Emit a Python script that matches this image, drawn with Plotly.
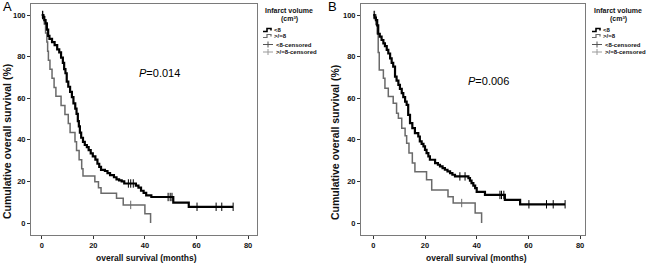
import plotly.graph_objects as go

W, H = 650, 264

# ---------------- data ----------------
# Panel A
A_lt8_t = [0, 0.5, 1, 1.5, 2, 2.5, 3, 4, 5, 6, 6.8, 7.5, 8.2, 8.7, 9.2, 9.7, 10.3, 11, 11.7, 12.3,
           13, 13.5, 14, 14.4, 14.8, 15.3, 16, 16.7, 17.5, 18.2, 19, 19.8, 20.8, 21.6, 22.3, 23, 24.5,
           25.5, 26.5, 28, 29, 30, 31, 32, 36.5, 37.5, 38.5, 39.5, 40.5, 42.5, 51, 57, 74.2]
A_lt8_s = [100, 99, 97.5, 96, 93, 90, 88.5, 87, 85.5, 83.5, 82, 79.5, 77, 74, 72, 68, 65.5, 63, 60.5, 57.5,
           55, 52.5, 49, 46.5, 43.5, 41, 39, 37.5, 36.5, 35, 33.5, 32, 30.5, 28.5, 27, 25.5, 25,
           24, 23, 22, 21, 20.5, 20, 19, 18, 17, 15.5, 14.5, 13.3, 12.5, 9.8, 7.8, 7.8]
A_lt8_cens = [0.3, 33.6, 34.5, 35.5, 49, 49.8, 50.5, 60.2, 67.6, 69.8, 74.2]

A_ge8_t = [0, 1.0, 1.5, 2.0, 2.3, 2.6, 3.2, 4.0, 4.8, 5.5, 7.5, 9.0, 10.3, 11.0, 12.9, 13.5, 14.5, 15.5,
           16.0, 20.6, 22.0, 23.0, 29.0, 31.6, 40.0, 42.2]
A_ge8_s = [100, 95.7, 91.3, 87, 82.6, 78.3, 73.9, 69.6, 65.2, 60.9, 56.5, 52.2, 47.8, 43.5, 39.1, 34.8, 30.4, 26.1,
           22.6, 19.8, 17, 14.3, 11.9, 8.7, 4.5, 0]
A_ge8_cens = [0.5, 34.5]

# Panel B
B_lt8_t = [0, 0.5, 1, 1.5, 1.9, 2.5, 3.2, 3.9, 4.5, 5.2, 5.8, 6.5, 7.1, 7.7, 8.4, 9.0, 9.7, 10.3, 11, 11.6,
           12.3, 12.9, 13.5, 14.2, 15.1, 16.1, 17.4, 18, 18.7, 19.4, 20, 20.6, 21.3, 21.9, 23.9, 25, 25.8,
           26.8, 27.7, 28.7, 29.7, 30.6, 31.6, 36.8, 37.4, 38, 38.7, 39.4, 40, 43.2, 50.9, 56.8, 74.2]
B_lt8_s = [100, 98.8, 97.5, 95, 91, 89.6, 88, 86.4, 85, 83.2, 81.5, 79.2, 77, 75.2, 70.4, 68.5, 66.4, 64.5, 62.4, 60.5,
           58.4, 56.8, 52, 48, 45.6, 43.2, 41.6, 39.2, 38, 36.8, 35.2, 33.6, 32, 30.4, 28.8, 28, 27.2,
           26.4, 25.6, 24.8, 24, 23.2, 22.4, 21.6, 20.4, 19.2, 18, 16.8, 15.0, 13.5, 11.1, 9.0, 9.0]
B_lt8_cens = [0.3, 33.5, 35.5, 49, 49.6, 50.5, 60.2, 67, 69.6, 74.2]

B_ge8_t = [0, 1.0, 1.5, 1.9, 2.3, 3.9, 4.5, 5.8, 7.7, 9.0, 9.7, 11.0, 12.3, 12.9, 13.8, 15.1, 16.1, 20.6,
           22.6, 28.9, 30.9, 39.4, 41.9]
B_ge8_s = [100, 95.5, 91, 82, 73.6, 69.6, 64.8, 60.8, 57.6, 52.8, 50.4, 45.6, 42, 38.4, 33.6, 28.8, 24.7, 20.8,
           15.9, 12.6, 9.6, 4.8, 0]
B_ge8_cens = [0.5, 34.2]

x_ticks = [0, 20, 40, 60, 80]
y_ticks = [0, 20, 40, 60, 80, 100]
p_values = ["0.014", "0.006"]
panel_labels = ["A", "B"]
y_title = "Cumulative overall survival (%)"
x_title = "overall survival (months)"
legend_title = "Infarct volume"
legend_unit = "(cm³)"
legend_items = ["<8", ">/=8", "<8-censored", ">/=8-censored"]

BLACK = "#000000"
GRAY = "#6a6a6a"
FONT = "Liberation Sans"


def step_val(ts, ss, t):
    v = ss[0]
    for ti, si in zip(ts, ss):
        if ti <= t:
            v = si
    return v


def px(x):
    return x / W


def py(y):
    return 1 - y / H


def note(x, y, text, size, bold=True, xanchor="center", yanchor="middle", angle=0, color="#111"):
    f = dict(family=FONT, size=size, color=color)
    if bold:
        f["weight"] = "bold"
    a = dict(x=px(x), y=py(y), xref="paper", yref="paper", text=text, showarrow=False,
             textangle=angle, font=f)
    if xanchor:
        a["xanchor"] = xanchor
    if yanchor:
        a["yanchor"] = yanchor
    return a


fig = go.Figure()

panels = [
    dict(xa="x", ya="y", d=(A_lt8_t, A_lt8_s, A_lt8_cens, A_ge8_t, A_ge8_s, A_ge8_cens),
         box=(31, 257), xr=[-4.15, 83.45], lx=263, ytx=7),
    dict(xa="x2", ya="y2", d=(B_lt8_t, B_lt8_s, B_lt8_cens, B_ge8_t, B_ge8_s, B_ge8_cens),
         box=(361, 585), xr=[-4.76, 81.9], lx=592, ytx=335),
]

top, bot = 4, 235
yr = [-5.77, 105.3]

shapes = []
annots = []
for i, p in enumerate(panels):
    t1, s1, c1, t2, s2, c2 = p["d"]
    fig.add_trace(go.Scatter(x=t2, y=s2, mode="lines", line=dict(color=GRAY, width=1.5, shape="hv"),
                             xaxis=p["xa"], yaxis=p["ya"], showlegend=False, hoverinfo="skip"))
    fig.add_trace(go.Scatter(x=c2, y=[step_val(t2, s2, c) for c in c2], mode="markers",
                             marker=dict(symbol="line-ns", size=6, line=dict(color=GRAY, width=1)),
                             xaxis=p["xa"], yaxis=p["ya"], showlegend=False, hoverinfo="skip"))
    fig.add_trace(go.Scatter(x=t1, y=s1, mode="lines", line=dict(color=BLACK, width=2.2, shape="hv"),
                             xaxis=p["xa"], yaxis=p["ya"], showlegend=False, hoverinfo="skip"))
    fig.add_trace(go.Scatter(x=c1, y=[step_val(t1, s1, c) for c in c1], mode="markers",
                             marker=dict(symbol="line-ns", size=6, line=dict(color=BLACK, width=1)),
                             xaxis=p["xa"], yaxis=p["ya"], showlegend=False, hoverinfo="skip"))

    x0, x1 = p["box"]
    axcommon = dict(showgrid=False, zeroline=False, showline=True, mirror=True, linecolor="#7a7a7a",
                    linewidth=1, ticks="outside", ticklen=3, tickcolor="#333", tickwidth=1,
                    tickfont=dict(family=FONT, size=7.5, color="#111", weight="bold"))
    sfx = "" if i == 0 else "2"
    fig.update_layout(**{
        "xaxis" + sfx: dict(domain=[px(x0), px(x1)], range=p["xr"], tickvals=x_ticks,
                            anchor="y" + sfx, **axcommon),
        "yaxis" + sfx: dict(domain=[py(bot), py(top)], range=yr, tickvals=y_ticks,
                            anchor="x" + sfx, **axcommon),
    })

    # axis titles
    cx = 146 if i == 0 else 476
    annots.append(note(cx, 258, x_title, 8.5))
    annots.append(note(p["ytx"], 142, "<b>" + y_title + "</b>", 10.5, bold=False, angle=-90,
                       xanchor="center", yanchor="middle"))
    # panel label
    annots.append(note(7 if i == 0 else 332, 7, panel_labels[i], 13, bold=False, color="#000"))
    # p value
    pcx = 159 if i == 0 else 488
    pcy = 73 if i == 0 else 81
    annots.append(note(pcx, pcy, "<i>P</i>=" + p_values[i], 11, bold=False, color="#000"))

    # legend
    lx = p["lx"]
    annots.append(note(lx + 26, 11, legend_title, 7))
    annots.append(note(lx + 26, 19, legend_unit, 7))
    ys = [30, 36, 44.5, 52]
    cols = [BLACK, GRAY, "#555555", "#9a9a9a"]
    for k, (lab, yy) in enumerate(zip(legend_items, ys)):
        if k < 2:
            path = "M {} {} L {} {} L {} {} L {} {} L {} {}".format(
                px(lx), py(yy + 1.5), px(lx + 4), py(yy + 1.5), px(lx + 4), py(yy - 1.5),
                px(lx + 8), py(yy - 1.5), px(lx + 8), py(yy + 0.5))
            shapes.append(dict(type="path", xref="paper", yref="paper", path=path,
                               line=dict(color=cols[k], width=1.6 if k == 0 else 1.2)))
            tx = lx + 9
        else:
            shapes.append(dict(type="line", xref="paper", yref="paper", x0=px(lx), x1=px(lx + 10),
                               y0=py(yy), y1=py(yy), line=dict(color=cols[k], width=1)))
            shapes.append(dict(type="line", xref="paper", yref="paper", x0=px(lx + 5), x1=px(lx + 5),
                               y0=py(yy - 3), y1=py(yy + 3), line=dict(color=cols[k], width=1)))
            tx = lx + 11
        annots.append(note(tx, yy, lab, 6, xanchor="left"))

fig.update_layout(width=W, height=H, margin=dict(l=0, r=0, t=0, b=0),
                  plot_bgcolor="white", paper_bgcolor="white",
                  shapes=shapes, annotations=annots, showlegend=False)

fig.write_html("out.html", config={"displayModeBar": False},
               post_script="document.body.style.margin='0';document.body.style.overflow='hidden';")
